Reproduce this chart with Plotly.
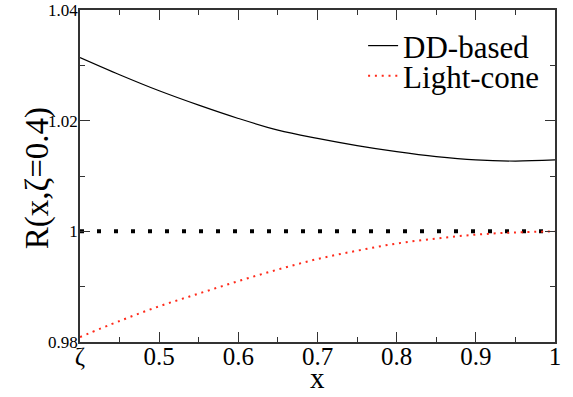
import plotly.graph_objects as go

# ---- data ----
x_vals = [0.40, 0.45, 0.50, 0.55, 0.60, 0.65, 0.70, 0.75, 0.80, 0.85, 0.90, 0.95, 1.00]
dd_based = [1.0314, 1.0283, 1.0254, 1.0228, 1.0204, 1.0183, 1.0168, 1.0155,
            1.0144, 1.0135, 1.0129, 1.0127, 1.0129]
light_cone = [0.9809, 0.9838, 0.98645, 0.98875, 0.9910, 0.9931, 0.9950, 0.9965,
              0.9978, 0.9987, 0.9994, 0.9998, 1.0000]
unity_x = [0.40, 1.00]
unity_y = [1.0, 1.0]

x_tickvals = [0.4, 0.5, 0.6, 0.7, 0.8, 0.9, 1.0]
x_ticktext = ["ζ", "0.5", "0.6", "0.7", "0.8", "0.9", "1"]
x_minor = [0.45, 0.55, 0.65, 0.75, 0.85, 0.95]
y_tickvals = [0.98, 1.00, 1.02, 1.04]
y_ticktext = ["0.98", "1", "1.02", "1.04"]
y_minor = [0.99, 1.01, 1.03]

FONT = "Liberation Serif, Times New Roman, serif"
AX = "#333333"

fig = go.Figure()
fig.add_trace(go.Scatter(x=unity_x, y=unity_y, mode="lines", showlegend=False,
                         line=dict(color="black", width=4, dash="4px,13px"),
                         hoverinfo="skip"))
fig.add_trace(go.Scatter(x=x_vals, y=dd_based, mode="lines", name="DD-based",
                         legend="legend",
                         line=dict(color="black", width=1.2, shape="spline")))
fig.add_trace(go.Scatter(x=x_vals, y=light_cone, mode="lines", name="Light-cone",
                         legend="legend2",
                         line=dict(color="#ff2a1a", width=2, dash="2px,4.8px",
                                   shape="spline")))

axis_common = dict(showline=True, linecolor=AX, linewidth=1.5, mirror="ticks",
                   ticks="inside", ticklen=10, tickwidth=1.2, tickcolor=AX,
                   showgrid=False, zeroline=False, automargin=False)

fig.update_xaxes(range=[0.4, 1.0], tickmode="array", tickvals=x_tickvals,
                 ticktext=x_ticktext, tickfont=dict(family=FONT, size=25, color="black"),
                 ticklabelstandoff=-9,
                 minor=dict(tickmode="array", tickvals=x_minor, ticks="inside",
                            ticklen=5, tickwidth=1.2, tickcolor=AX, showgrid=False),
                 **axis_common)
fig.update_yaxes(range=[0.98, 1.04], tickmode="array", tickvals=y_tickvals,
                 ticktext=y_ticktext, tickfont=dict(family=FONT, size=17, color="black"),
                 ticklabelstandoff=-3,
                 minor=dict(tickmode="array", tickvals=y_minor, ticks="inside",
                            ticklen=5, tickwidth=1.2, tickcolor=AX, showgrid=False),
                 **axis_common)

fig.add_annotation(text="R(x,ζ=0.4)", xref="paper", yref="paper",
                   x=-0.0905, y=0.4935, xanchor="center", yanchor="middle",
                   textangle=-90, showarrow=False,
                   font=dict(family=FONT, size=33, color="black"))
fig.add_annotation(text="x", xref="paper", yref="paper",
                   x=0.5, y=-0.108, xanchor="center", yanchor="middle",
                   showarrow=False, font=dict(family=FONT, size=29, color="black"))

legend_common = dict(xanchor="left", yanchor="top", bgcolor="rgba(0,0,0,0)",
                     borderwidth=0, font=dict(family=FONT, size=31, color="black"))

fig.update_layout(
    width=573, height=397,
    margin=dict(l=80, r=18, t=10, b=55),
    paper_bgcolor="white", plot_bgcolor="white",
    font=dict(family=FONT, color="black"),
    legend=dict(x=0.596, y=0.973, **legend_common),
    legend2=dict(x=0.596, y=0.8825, **legend_common),
)

fig.write_html("out.html", config={"displayModeBar": False},
               post_script="document.body.style.margin='0';")
